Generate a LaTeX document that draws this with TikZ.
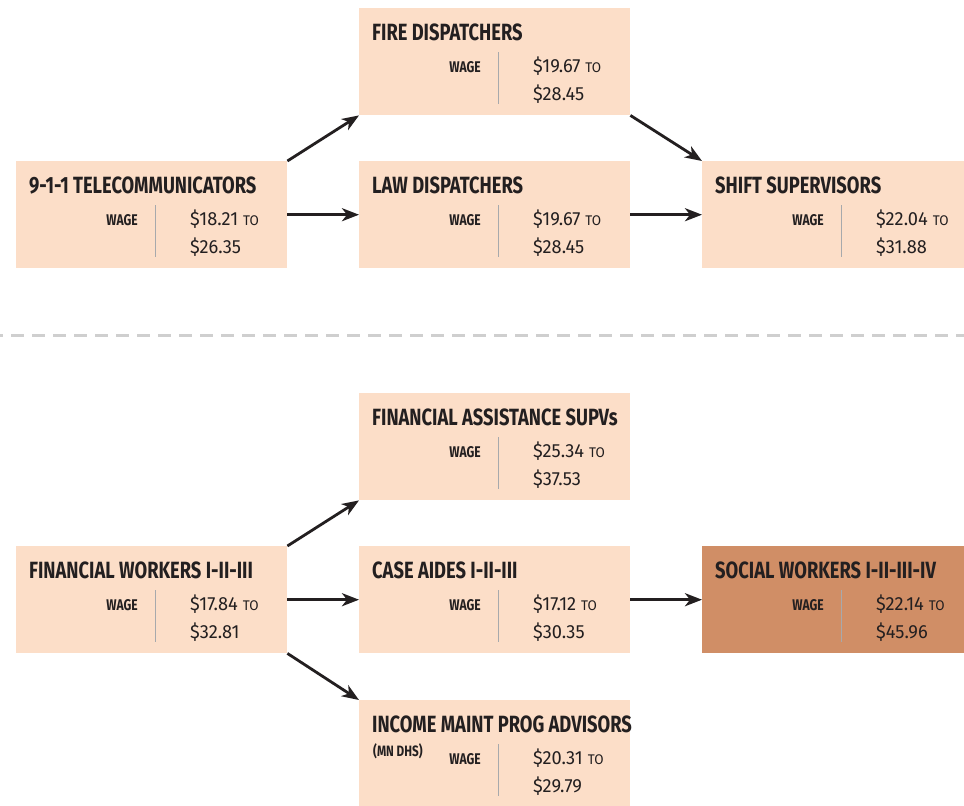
\documentclass[tikz,border=0pt]{standalone}
\usepackage{fontspec}
\setmainfont{Fira Sans}[FakeStretch=0.78]
\newfontfamily\valuefont{Fira Sans}[FakeStretch=0.96]
\usetikzlibrary{arrows.meta}

\definecolor{boxfill}{HTML}{FCDEC8}
\definecolor{boxdark}{HTML}{D08E66}
\definecolor{ink}{HTML}{231F20}
\definecolor{rulegray}{HTML}{A7A9AC}
\definecolor{sepgray}{HTML}{CFCFCF}

\tikzset{
  jobbox/.style={rectangle, inner sep=0pt, minimum height=107pt, draw=none},
  titletext/.style={anchor=base west, inner sep=0pt, text=ink,
    font=\bfseries\fontsize{23.5}{23.5}\selectfont},
  wagelabel/.style={anchor=base east, inner sep=0pt, text=ink,
    font=\bfseries\fontsize{15.5}{15.5}\selectfont},
  valuetext/.style={anchor=base west, inner sep=0pt, text=ink,
    font=\valuefont\fontsize{19}{19}\selectfont},
  notetext/.style={anchor=base west, inner sep=0pt, text=ink,
    font=\bfseries\fontsize{15}{15}\selectfont},
  rulestyle/.style={draw=rulegray, line width=0.9pt},
  flow/.style={draw=ink, line width=2.8pt,
    -{Stealth[length=17pt,width=13pt,inset=5pt]}},
  separator/.style={draw=sepgray, line width=3pt,
    dash pattern=on 13pt off 8pt, dash phase=10pt}
}

% #1 name, #2 x, #3 y, #4 width, #5 fill, #6 title, #7 low wage, #8 high wage
\newcommand\jobbox[8]{%
  \begin{scope}[shift={(#2,#3)}]
    \node[jobbox, fill=#5, minimum width=#4pt, anchor=north west] (#1) at (0,0) {};
    \node[titletext] (#1-title) at (13,32) {#6};
    \node[wagelabel] (#1-wage) at (122,64) {WAGE};
    \draw[rulestyle] (139,44) -- (139,96);
    \node[valuetext] (#1-low) at (174,64) {\$#7\hspace{5pt}{\fontsize{14}{14}\selectfont TO}};
    \node[valuetext] (#1-high) at (174,92) {\$#8};
  \end{scope}}

\begin{document}
\begin{tikzpicture}[x=1pt, y=-1pt]
  \useasboundingbox (0,0) rectangle (964,806);
  \fill[white] (0,0) rectangle (964,806);

  % 9-1-1 career ladder
  \jobbox{tele}{16}{161}{271}{boxfill}{9-1-1 TELECOMMUNICATORS}{18.21}{26.35}
  \jobbox{fire}{359}{8}{271}{boxfill}{FIRE DISPATCHERS}{19.67}{28.45}
  \jobbox{law}{359}{161}{271}{boxfill}{LAW DISPATCHERS}{19.67}{28.45}
  \jobbox{shift}{702}{161}{262}{boxfill}{SHIFT SUPERVISORS}{22.04}{31.88}

  \draw[flow] (tele.north east) -- (fire.south west);
  \draw[flow] (tele.east) -- (law.west);
  \draw[flow] (fire.south east) -- (shift.north west);
  \draw[flow] (law.east) -- (shift.west);

  % section divider
  \draw[separator] (0,335) -- (964,335);

  % human services career ladder
  \jobbox{finw}{16}{546}{271}{boxfill}{FINANCIAL WORKERS I-II-III}{17.84}{32.81}
  \jobbox{fina}{359}{393}{271}{boxfill}{FINANCIAL ASSISTANCE SUPVs}{25.34}{37.53}
  \jobbox{case}{359}{546}{271}{boxfill}{CASE AIDES I-II-III}{17.12}{30.35}
  \jobbox{imp}{359}{700}{271}{boxfill}{INCOME MAINT PROG ADVISORS}{20.31}{29.79}
  \jobbox{social}{702}{546}{262}{boxdark}{SOCIAL WORKERS I-II-III-IV}{22.14}{45.96}
  \node[notetext] (imp-note) at (373,756) {(MN DHS)};

  \draw[flow] (finw.north east) -- (fina.south west);
  \draw[flow] (finw.east) -- (case.west);
  \draw[flow] (finw.south east) -- (imp.north west);
  \draw[flow] (case.east) -- (social.west);
\end{tikzpicture}
\end{document}
